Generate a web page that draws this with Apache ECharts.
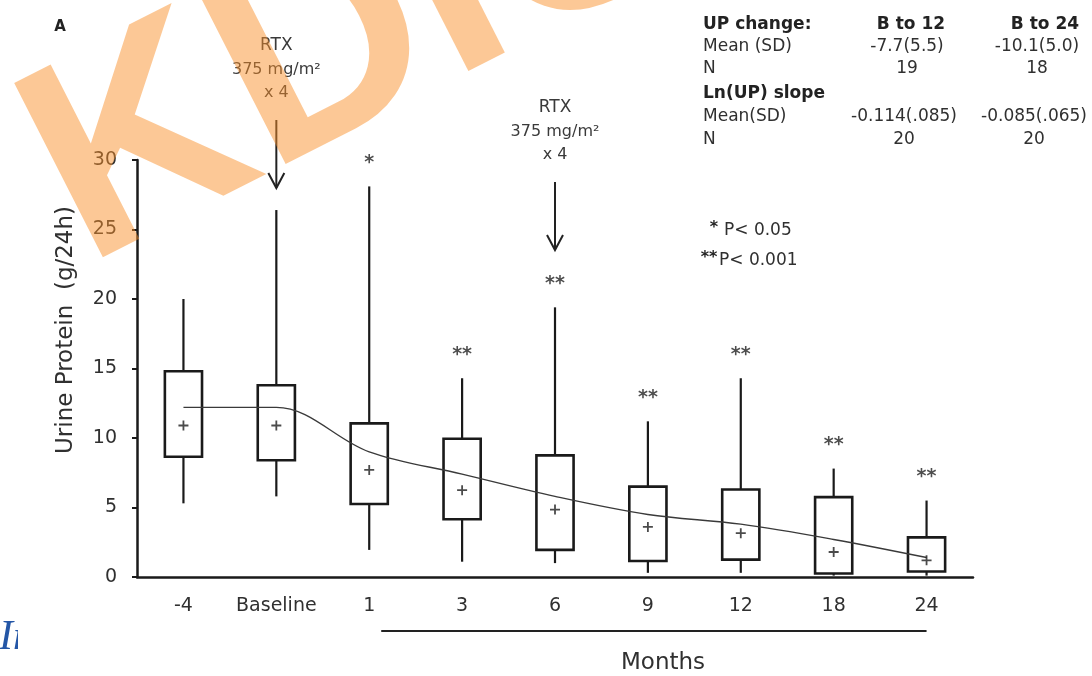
<!DOCTYPE html>
<html>
<head>
<meta charset="utf-8">
<script src="https://cdn.jsdelivr.net/npm/echarts@6/dist/echarts.min.js"></script>
<style>
html,body{margin:0;padding:0;background:#fff;}
#chart{width:1092px;height:676px;}
</style>
</head>
<body>
<div id="chart"></div>
<script>
// ---- data ----
const categories = ['-4', 'Baseline', '1', '3', '6', '9', '12', '18', '24'];
const whiskerLow  = [5.3, 5.8, 1.95, 1.1, 1.0, 0.3, 0.3, 0.1, 0.1];
const boxLow      = [8.65, 8.4, 5.25, 4.15, 1.95, 1.15, 1.25, 0.25, 0.4];
const boxHigh     = [14.8, 13.8, 11.05, 9.95, 8.75, 6.5, 6.3, 5.75, 2.85];
const whiskerHigh = [20.0, 26.4, 28.1, 14.3, 19.4, 11.2, 14.3, 7.8, 5.5];
const means       = [10.9, 10.9, 7.7, 6.25, 4.85, 3.6, 3.15, 1.8, 1.2];
const fitted      = [12.2, 12.2, 9.0, 7.4, 5.8, 4.5, 3.8, 2.7, 1.4];
const significance = ['', '', '*', '**', '**', '**', '**', '**', '**'];
const yTicks = [0, 5, 10, 15, 20, 25, 30];

const tableHeader = ['UP change:', 'B to 12', 'B to 24'];
const tableRows1 = [['Mean (SD)', '-7.7(5.5)', '-10.1(5.0)'], ['N', '19', '18']];
const tableHeader2 = 'Ln(UP) slope';
const tableRows2 = [['Mean(SD)', '-0.114(.085)', '-0.085(.065)'], ['N', '20', '20']];

const FONT = '"DejaVu Sans", "Liberation Sans", sans-serif';
const INK = '#1a1a1a';
const TXT = '#303030';

const chart = echarts.init(document.getElementById('chart'), null, {renderer: 'canvas'});

const boxData = categories.map((c, i) => [i, whiskerLow[i], boxLow[i], boxHigh[i], whiskerHigh[i]]);

const option = {
  animation: false,
  backgroundColor: '#fff',
  grid: {left: 137, right: 119, top: 160, bottom: 99, containLabel: false},
  xAxis: {
    type: 'category',
    data: categories,
    boundaryGap: true,
    axisLine: {lineStyle: {color: INK, width: 2.5}},
    axisTick: {alignWithLabel: true, interval: 0, length: 4, lineStyle: {color: INK, width: 2}},
    axisLabel: {color: TXT, fontSize: 19, fontFamily: FONT, margin: 20, interval: 0, hideOverlap: false},
    splitLine: {show: false}
  },
  yAxis: {
    type: 'value',
    min: 0, max: 30, interval: 5,
    axisLine: {show: true, lineStyle: {color: INK, width: 2.5}},
    axisTick: {show: true, length: 5, lineStyle: {color: INK, width: 2}},
    axisLabel: {color: TXT, fontSize: 19, fontFamily: FONT, margin: 20,
      formatter: v => yTicks.includes(v) ? String(v) : ''},
    splitLine: {show: false}
  },
  series: [
    {
      type: 'custom',
      name: 'box',
      data: boxData,
      encode: {x: 0, y: [1, 2, 3, 4]},
      z: 2,
      renderItem: function (params, api) {
        const i = api.value(0);
        const lo = api.coord([i, api.value(1)]);
        const q1 = api.coord([i, api.value(2)]);
        const q3 = api.coord([i, api.value(3)]);
        const hi = api.coord([i, api.value(4)]);
        const x = lo[0];
        const halfW = api.size([1, 0])[0] * 0.2;
        const ls = {stroke: INK, lineWidth: 2.2};
        return {
          type: 'group',
          children: [
            {type: 'line', shape: {x1: x, y1: hi[1], x2: x, y2: q3[1]}, style: ls},
            {type: 'line', shape: {x1: x, y1: q1[1], x2: x, y2: lo[1]}, style: ls},
            {type: 'rect', shape: {x: x - halfW, y: q3[1], width: 2 * halfW, height: q1[1] - q3[1]},
              style: {fill: '#fff', stroke: INK, lineWidth: 2.6}}
          ]
        };
      }
    },
    {
      type: 'line',
      name: 'fitted',
      data: fitted,
      smooth: 0.35,
      showSymbol: false,
      z: 4,
      lineStyle: {color: '#3a3a3a', width: 1.4}
    },
    {
      type: 'scatter',
      name: 'mean',
      data: means,
      symbol: 'path://M4.1,0h1.8v4.1h4.1v1.8h-4.1v4.1h-1.8v-4.1h-4.1v-1.8h4.1z',
      symbolSize: 10,
      itemStyle: {color: '#1e1e1e'},
      z: 5
    },
    {
      type: 'scatter',
      name: 'sig',
      data: whiskerHigh.map((v, i) => [i, v]),
      symbolSize: 0,
      z: 5,
      label: {
        show: true, position: 'top', distance: 14,
        formatter: p => significance[p.dataIndex],
        color: '#222', fontSize: 19, fontWeight: 'bold', fontFamily: FONT
      }
    }
  ]
};
chart.setOption(option);

function buildGraphics() {
  const px = c => chart.convertToPixel({xAxisIndex: 0}, c);
  const els = [];
  const txt = (x, y, text, opts) => Object.assign({
    type: 'text', z: 10,
    style: Object.assign({x: x, y: y, text: text, fill: TXT, font: '17px ' + FONT,
      textAlign: 'center', textVerticalAlign: 'middle'}, opts || {})
  });

  // panel letter
  els.push(txt(60, 27, 'A', {font: 'bold 15px ' + FONT, fill: '#222'}));

  // y axis title
  els.push({type: 'text', z: 10, x: 66, y: 330, rotation: Math.PI / 2,
    style: {x: 0, y: 0, text: 'Urine Protein  (g/24h)', font: '23px ' + FONT, fill: TXT,
      textAlign: 'center', textVerticalAlign: 'middle'}});

  // RTX arrows
  const rtx = (cat, yTop) => {
    const x = px(cat);
    els.push(txt(x, yTop, 'RTX', {font: '17px ' + FONT, fill: '#3a3a3a'}));
    els.push(txt(x, yTop + 24, '375 mg/m²', {font: '16px ' + FONT, fill: '#3a3a3a'}));
    els.push(txt(x, yTop + 47, 'x 4', {font: '16px ' + FONT, fill: '#3a3a3a'}));
    const a1 = yTop + 74, a2 = yTop + 142;
    els.push({type: 'line', z: 10, shape: {x1: x, y1: a1, x2: x, y2: a2}, style: {stroke: '#222', lineWidth: 2}});
    els.push({type: 'polyline', z: 10, shape: {points: [[x - 8, a2 - 15], [x, a2], [x + 8, a2 - 15]]},
      style: {stroke: '#222', lineWidth: 2, fill: null}});
  };
  rtx('Baseline', 46);
  rtx('6', 108);

  // p-value legend
  els.push(txt(714, 228, '*', {font: 'bold 16px ' + FONT, fill: '#222'}));
  els.push(txt(724, 231, 'P< 0.05', {textAlign: 'left'}));
  els.push(txt(709, 258, '**', {font: 'bold 16px ' + FONT, fill: '#222'}));
  els.push(txt(719, 261, 'P< 0.001', {textAlign: 'left'}));

  // table
  const cx1 = 907, cx2 = 1037, lx = 703;
  const bold = {textAlign: 'left', font: 'bold 17px ' + FONT, fill: '#222'};
  els.push(txt(lx, 25, tableHeader[0], bold));
  els.push(txt(cx1 + 4, 25, tableHeader[1], {font: 'bold 17px ' + FONT, fill: '#222'}));
  els.push(txt(cx2 + 8, 25, tableHeader[2], {font: 'bold 17px ' + FONT, fill: '#222'}));
  tableRows1.forEach((r, k) => {
    const y = 47 + k * 22;
    els.push(txt(lx, y, r[0], {textAlign: 'left'}));
    els.push(txt(cx1, y, r[1]));
    els.push(txt(cx2, y, r[2]));
  });
  els.push(txt(lx, 94, tableHeader2, bold));
  tableRows2.forEach((r, k) => {
    const y = 117 + k * 23;
    els.push(txt(lx, y, r[0], {textAlign: 'left'}));
    els.push(txt(cx1 - 3, y, r[1]));
    els.push(txt(cx2 - 3, y, r[2]));
  });

  // Months bracket
  const mx1 = px('1') + 12, mx2 = px('24');
  els.push({type: 'line', z: 10, shape: {x1: mx1, y1: 631, x2: mx2, y2: 631}, style: {stroke: '#222', lineWidth: 2.2}});
  els.push(txt(663, 663, 'Months', {font: '23px ' + FONT}));

  // partial caption text at left
  els.push({type: 'text', z: 10, x: 0, y: 638,
    style: {x: -1, y: 0, text: 'In', font: 'italic 42px "Liberation Serif", serif', fill: '#2456a6',
      textAlign: 'left', textVerticalAlign: 'middle'}});
  els.push({type: 'rect', z: 11, shape: {x: 18, y: 600, width: 40, height: 70}, style: {fill: '#fff'}});

  // watermark
  els.push({type: 'text', z: 100, x: 84, y: 262, rotation: 27 * Math.PI / 180,
    style: {x: 0, y: -74, text: 'KDIGO', font: 'bold 284px "Liberation Sans", Arial, sans-serif',
      fill: 'rgba(249,143,40,0.49)', textAlign: 'left', textVerticalAlign: 'middle'}});

  chart.setOption({graphic: {elements: els}});
}
buildGraphics();
</script>
</body>
</html>
